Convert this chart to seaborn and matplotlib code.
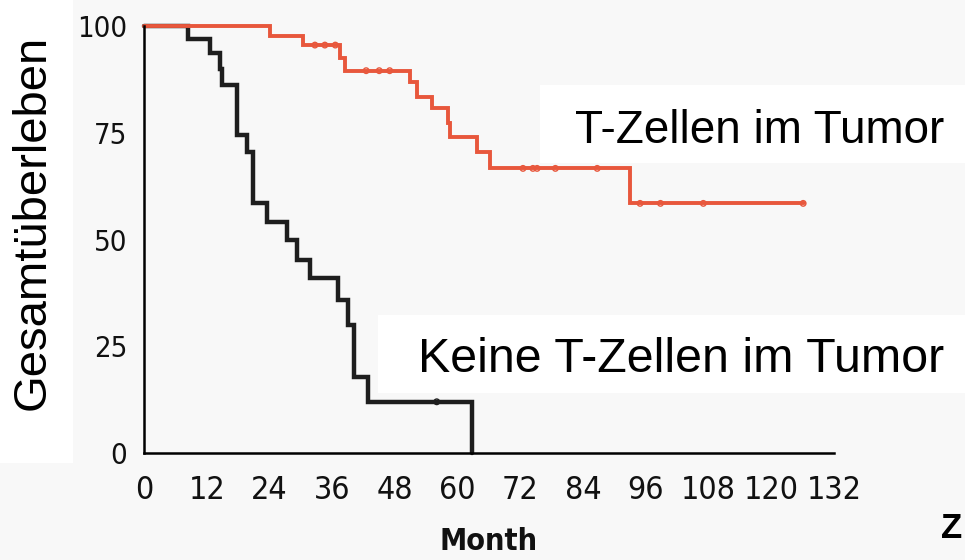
import numpy as np
import pandas as pd
import matplotlib
matplotlib.use("Agg")
import matplotlib.pyplot as plt
import seaborn as sns
from matplotlib.patches import Rectangle

# ---------------- data ----------------
# group with T cells in tumour (red)
t_months = [0, 24.1, 30.5, 37.5, 38.5, 50.9, 52.2, 55.1, 58.2, 58.6, 63.7, 66.2, 93.0, 126.2]
t_surv = [100, 97.7, 95.6, 92.5, 89.6, 87.0, 83.5, 80.8, 77.3, 74.1, 70.6, 66.7, 58.5, 58.5]
t_censor = [32.7, 34.6, 36.6, 42.5, 45.0, 47.0, 72.5, 74.4, 75.2, 78.7, 86.7,
            94.9, 98.8, 107.0, 126.1]

# group without T cells in tumour (black)
k_months = [0, 8.5, 12.6, 14.5, 15.0, 17.7, 19.7, 20.9, 23.5, 27.3, 29.2, 31.8,
            37.2, 39.1, 40.1, 42.9, 62.7]
k_surv = [100, 97.0, 93.7, 90.0, 86.2, 74.5, 70.6, 58.5, 54.2, 49.9, 45.2, 40.9,
          35.9, 30.0, 17.9, 12.0, 0]
k_censor = [56.0]

x_ticks = [0, 12, 24, 36, 48, 60, 72, 84, 96, 108, 120, 132]
y_ticks = [0, 25, 50, 75, 100]

label_t = "T-Zellen im Tumor"
label_k = "Keine T-Zellen im Tumor"
y_title = "Gesamtüberleben"
x_title = "Month"

RED = "#e8573c"
BLACK = "#1e1e1e"
BG = "#f8f8f8"


def step_value(months, surv, t):
    idx = np.searchsorted(np.asarray(months), t, side="right") - 1
    return np.asarray(surv)[idx]


curves = pd.concat([
    pd.DataFrame({"month": k_months, "surv": k_surv, "group": label_k}),
    pd.DataFrame({"month": t_months, "surv": t_surv, "group": label_t}),
])
cens = pd.concat([
    pd.DataFrame({"month": k_censor, "surv": step_value(k_months, k_surv, k_censor), "group": label_k}),
    pd.DataFrame({"month": t_censor, "surv": step_value(t_months, t_surv, t_censor), "group": label_t}),
])

sns.set_style("white")
plt.rcParams["font.family"] = ["DejaVu Sans"]

fig = plt.figure(figsize=(9.65, 5.6), dpi=100, facecolor=BG)
W, H = 965, 560
ax = fig.add_axes([144 / W, 1 - 453 / H, 690 / W, (453 - 26.3) / H])
ax.set_facecolor(BG)

# white panels behind the overlaid captions
fig.patches.append(Rectangle((0, 1 - 463 / H), 73 / W, 463 / H, transform=fig.transFigure,
                             facecolor="white", edgecolor="none", zorder=0))
fig.patches.append(Rectangle((540 / W, 1 - 163 / H), (W - 540) / W, 78 / H, transform=fig.transFigure,
                             facecolor="white", edgecolor="none", zorder=0))
fig.patches.append(Rectangle((378 / W, 1 - 393 / H), (W - 378) / W, 78 / H, transform=fig.transFigure,
                             facecolor="white", edgecolor="none", zorder=0))

palette = {label_k: BLACK, label_t: RED}
for grp, lw in [(label_k, 3.2), (label_t, 2.8)]:
    sub = curves[curves.group == grp]
    sns.lineplot(data=sub, x="month", y="surv", ax=ax, color=palette[grp], lw=lw,
                 drawstyle="steps-post", estimator=None, legend=False, clip_on=False,
                 solid_joinstyle="miter")
    csub = cens[cens.group == grp]
    sns.scatterplot(data=csub, x="month", y="surv", ax=ax, marker="o", s=16,
                    facecolor="none", edgecolor=palette[grp], linewidth=1.0,
                    legend=False, zorder=5, clip_on=False)

ax.set_xlim(0, 132)
ax.set_ylim(0, 100)
ax.set_xticks(x_ticks)
ax.set_yticks(y_ticks)
ax.set_xticklabels([str(v) for v in x_ticks])
ax.set_yticklabels([str(v) for v in y_ticks])
sns.despine(ax=ax)
for s in ["left", "bottom"]:
    ax.spines[s].set_linewidth(1.8)
    ax.spines[s].set_color("black")
ax.tick_params(axis="x", direction="out", length=13, width=1.6, pad=3, colors="black")
ax.tick_params(axis="y", direction="out", length=10, width=1.6, pad=2, colors="black")
for lab in ax.get_xticklabels():
    lab.set_fontsize(23)
    lab.set_fontstretch("condensed")
    lab.set_color("#111111")
for lab in ax.get_yticklabels():
    lab.set_fontsize(21)
    lab.set_fontstretch("condensed")
    lab.set_color("#111111")

ax.set_xlabel(x_title, fontsize=22, fontweight="bold", fontstretch="condensed", labelpad=15,
              color="#111111")
ax.set_ylabel("")

fig.text(33 / W, 1 - 222 / H, y_title, rotation=90, ha="center", va="center",
         fontsize=34, family=["Liberation Sans", "DejaVu Sans"], color="black")
fig.text(944 / W, 1 - 143 / H, label_t, ha="right", va="baseline",
         fontsize=33, family=["Liberation Sans", "DejaVu Sans"], color="black")
fig.text(944 / W, 1 - 372 / H, label_k, ha="right", va="baseline",
         fontsize=34.8, family=["Liberation Sans", "DejaVu Sans"], color="black")
fig.text(941 / W, 1 - 538 / H, "Z", ha="left", va="baseline", fontsize=25,
         fontweight="bold", family=["Liberation Sans", "DejaVu Sans"], color="black")

fig.savefig("out.png", dpi=100, facecolor=BG)
